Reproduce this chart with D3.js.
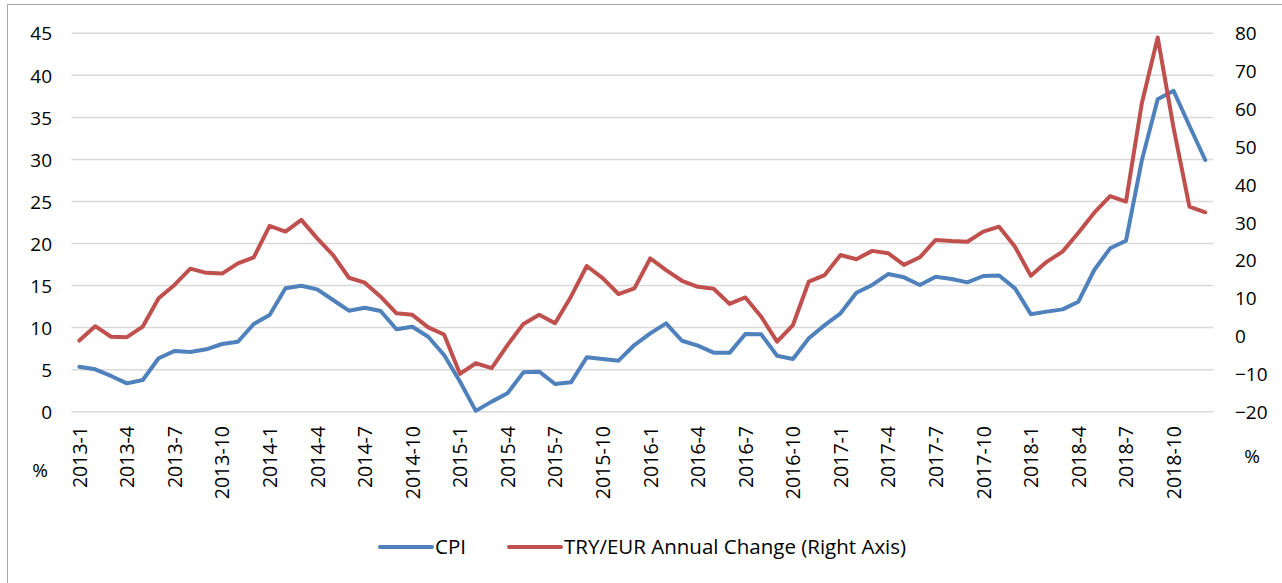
<!DOCTYPE html>
<html>
<head>
<meta charset="utf-8">
<script src="https://cdn.jsdelivr.net/npm/d3@7"></script>
<style>
  body { margin: 0; background: #fff; }
  svg text { font-family: "Open Sans", Lato, sans-serif; fill: #000; }
</style>
</head>
<body>
<div id="plot"></div>
<script>
// categories: monthly, 2013-1 .. 2018-12
var years = [2013, 2014, 2015, 2016, 2017, 2018];
var months = [];
years.forEach(function(y){
  for (var m = 1; m <= 12; m++) months.push(y + "-" + m);
});

// CPI, left axis (%)
var cpi = [5.35, 5.04, 4.25, 3.37, 3.77, 6.35, 7.22, 7.1, 7.42, 8.05, 8.32, 10.43,
  11.5, 14.67, 14.98, 14.55, 13.28, 12.01, 12.37, 11.97, 9.8, 10.1, 8.92, 6.74,
  3.6, 0.1, 1.2, 2.19, 4.68, 4.76, 3.29, 3.49, 6.47, 6.27, 6.07, 7.93,
  9.32, 10.5, 8.44, 7.85, 7.02, 7.0, 9.24, 9.2, 6.66, 6.27, 8.73, 10.3,
  11.7, 14.15, 15.07, 16.37, 15.98, 15.07, 16.05, 15.78, 15.38, 16.14, 16.2, 14.67,
  11.6, 11.9, 12.17, 13.08, 16.85, 19.43, 20.33, 29.9, 37.15, 38.17, 34.0, 29.93];

// TRY/EUR annual change, right axis (%)
var tryeur = [-1.2, 2.6, -0.2, -0.3, 2.5, 10, 13.5, 17.8, 16.7, 16.5, 19.2, 20.8,
  29.1, 27.6, 30.7, 25.8, 21.4, 15.4, 14.1, 10.4, 6, 5.6, 2.3, 0.4,
  -10, -7.2, -8.5, -2.4, 3.2, 5.6, 3.4, 10.4, 18.5, 15.3, 11.1, 12.6,
  20.5, 17.4, 14.6, 13.0, 12.5, 8.5, 10.2, 5.1, -1.5, 2.9, 14.4, 16.1,
  21.4, 20.3, 22.5, 21.9, 18.8, 20.8, 25.4, 25.1, 24.9, 27.6, 28.9, 23.6,
  15.9, 19.6, 22.3, 27.3, 32.6, 37.0, 35.5, 61.5, 78.9, 55, 34.2, 32.7];

var leftTicks = [0, 5, 10, 15, 20, 25, 30, 35, 40, 45];
var rightTicks = [-20, -10, 0, 10, 20, 30, 40, 50, 60, 70, 80];

var width = 1282, height = 583;
var blue = "#4F81BD", red = "#C0504D";

var svg = d3.select("#plot").append("svg")
  .attr("width", width).attr("height", height);

// outer frame (top + left edges visible)
svg.append("path")
  .attr("d", "M7.5,583 L7.5,4.5 L1282,4.5")
  .attr("fill", "none").attr("stroke", "#A6A6A6").attr("stroke-width", 1);

var x = d3.scalePoint().domain(months).range([71.4, 1213.2]).padding(0.5);
var yL = d3.scaleLinear().domain([0, 45]).range([411.7, 33.3]);
var yR = d3.scaleLinear().domain([-20, 80]).range([411.7, 33.3]);

// gridlines
svg.append("g").selectAll("line").data(leftTicks).enter().append("line")
  .attr("x1", 71.4).attr("x2", 1213.2)
  .attr("y1", function(d){ return yL(d); })
  .attr("y2", function(d){ return yL(d); })
  .attr("stroke", "#D9D9D9").attr("stroke-width", 1.5);

// left axis
var gl = svg.append("g").attr("transform", "translate(71,0)")
  .call(d3.axisLeft(yL).tickValues(leftTicks).tickSize(0).tickPadding(19));
gl.select(".domain").remove();
gl.selectAll("text").attr("font-size", "19px").attr("dy", "0.35em");

// right axis
var gr = svg.append("g").attr("transform", "translate(1213,0)")
  .call(d3.axisRight(yR).tickValues(rightTicks).tickSize(0).tickPadding(22));
gr.select(".domain").remove();
gr.selectAll("text").attr("font-size", "19px").attr("dy", "0.35em");

// bottom axis, every third month
var gx = svg.append("g").attr("transform", "translate(0,426)")
  .call(d3.axisBottom(x).tickValues(months.filter(function(d, i){ return i % 3 == 0; }))
    .tickSize(0).tickPadding(0));
gx.select(".domain").remove();
gx.selectAll("text")
  .attr("font-size", "19.5px")
  .attr("text-anchor", "end")
  .attr("dy", "0.35em")
  .attr("transform", "rotate(-90)")
  .attr("x", 0).attr("y", 0);

// unit labels
svg.append("text").attr("x", 40).attr("y", 477)
  .attr("text-anchor", "middle").attr("font-size", "19px").text("%");
svg.append("text").attr("x", 1252).attr("y", 463)
  .attr("text-anchor", "middle").attr("font-size", "19px").text("%");

// lines
var lineL = d3.line()
  .x(function(d, i){ return x(months[i]); })
  .y(function(d){ return yL(d); });
var lineR = d3.line()
  .x(function(d, i){ return x(months[i]); })
  .y(function(d){ return yR(d); });

svg.append("path").datum(cpi)
  .attr("d", lineL)
  .attr("fill", "none").attr("stroke", blue).attr("stroke-width", 4)
  .attr("stroke-linejoin", "round").attr("stroke-linecap", "round");

svg.append("path").datum(tryeur)
  .attr("d", lineR)
  .attr("fill", "none").attr("stroke", red).attr("stroke-width", 4)
  .attr("stroke-linejoin", "round").attr("stroke-linecap", "round");

// legend
var legend = [
  {name: "CPI", color: blue, x: 380},
  {name: "TRY/EUR Annual Change (Right Axis)", color: red, x: 509}
];
var lg = svg.append("g");
legend.forEach(function(d){
  lg.append("line")
    .attr("x1", d.x).attr("x2", d.x + 52)
    .attr("y1", 547).attr("y2", 547)
    .attr("stroke", d.color).attr("stroke-width", 4).attr("stroke-linecap", "round");
  lg.append("text")
    .attr("x", d.x + 55).attr("y", 547).attr("dy", "0.35em")
    .attr("font-size", "20.5px").text(d.name);
});
</script>
</body>
</html>
